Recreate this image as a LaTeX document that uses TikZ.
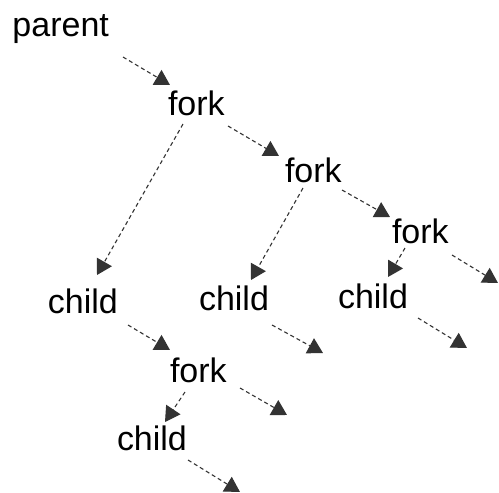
\documentclass[tikz,border=0pt]{standalone}
\usepackage{fontspec}
\setmainfont{Liberation Sans}
\usetikzlibrary{arrows.meta}
\begin{document}
\begin{tikzpicture}[x=1pt,y=-1pt,
  lbl/.style={anchor=base west,inner sep=0pt,outer sep=0pt,text=black,font=\fontsize{34}{40}\selectfont},
  arr/.style={draw=black!80,line width=1.1pt,dash pattern=on 4pt off 3pt,
    -{Triangle[length=15pt,width=17pt]}}]
\useasboundingbox[fill=white] (0,0) rectangle (499,493);
\node[lbl] (parent) at (12.5,36) {parent};
\node[lbl] (fork1) at (168,115) {fork};
\node[lbl] (fork2) at (285,182) {fork};
\node[lbl] (fork3) at (392,243) {fork};
\node[lbl] (child1) at (48,313) {child};
\node[lbl] (child2) at (199,310) {child};
\node[lbl] (child3) at (338,308) {child};
\node[lbl] (fork4) at (170,382) {fork};
\node[lbl] (child4) at (117,450) {child};
\coordinate (e3) at (498,283);
\coordinate (e2) at (323,353);
\coordinate (e5) at (467,348);
\coordinate (e4) at (287,415);
\coordinate (e6) at (240,492);
\draw[arr] ([shift={(110.5,21)}]parent.base west) -- ([shift={(2,-30)}]fork1.base west);
\draw[arr] ([shift={(60,11)}]fork1.base west) -- ([shift={(-6,-26)}]fork2.base west);
\draw[arr] ([shift={(15,9)}]fork1.base west) -- ([shift={(49,-38)}]child1.base west);
\draw[arr] ([shift={(18,6)}]fork2.base west) -- ([shift={(52,-30)}]child2.base west);
\draw[arr] ([shift={(57,8)}]fork2.base west) -- ([shift={(-2,-26)}]fork3.base west);
\draw[arr] ([shift={(13,5)}]fork3.base west) -- ([shift={(50,-31)}]child3.base west);
\draw[arr] ([shift={(60,12)}]fork3.base west) -- (e3);
\draw[arr] ([shift={(80,12)}]child1.base west) -- ([shift={(0,-32)}]fork4.base west);
\draw[arr] ([shift={(73,15)}]child2.base west) -- (e2);
\draw[arr] ([shift={(80,10)}]child3.base west) -- (e5);
\draw[arr] ([shift={(15,10)}]fork4.base west) -- ([shift={(48,-28)}]child4.base west);
\draw[arr] ([shift={(70,6)}]fork4.base west) -- (e4);
\draw[arr] ([shift={(71,10)}]child4.base west) -- (e6);
\end{tikzpicture}
\end{document}
